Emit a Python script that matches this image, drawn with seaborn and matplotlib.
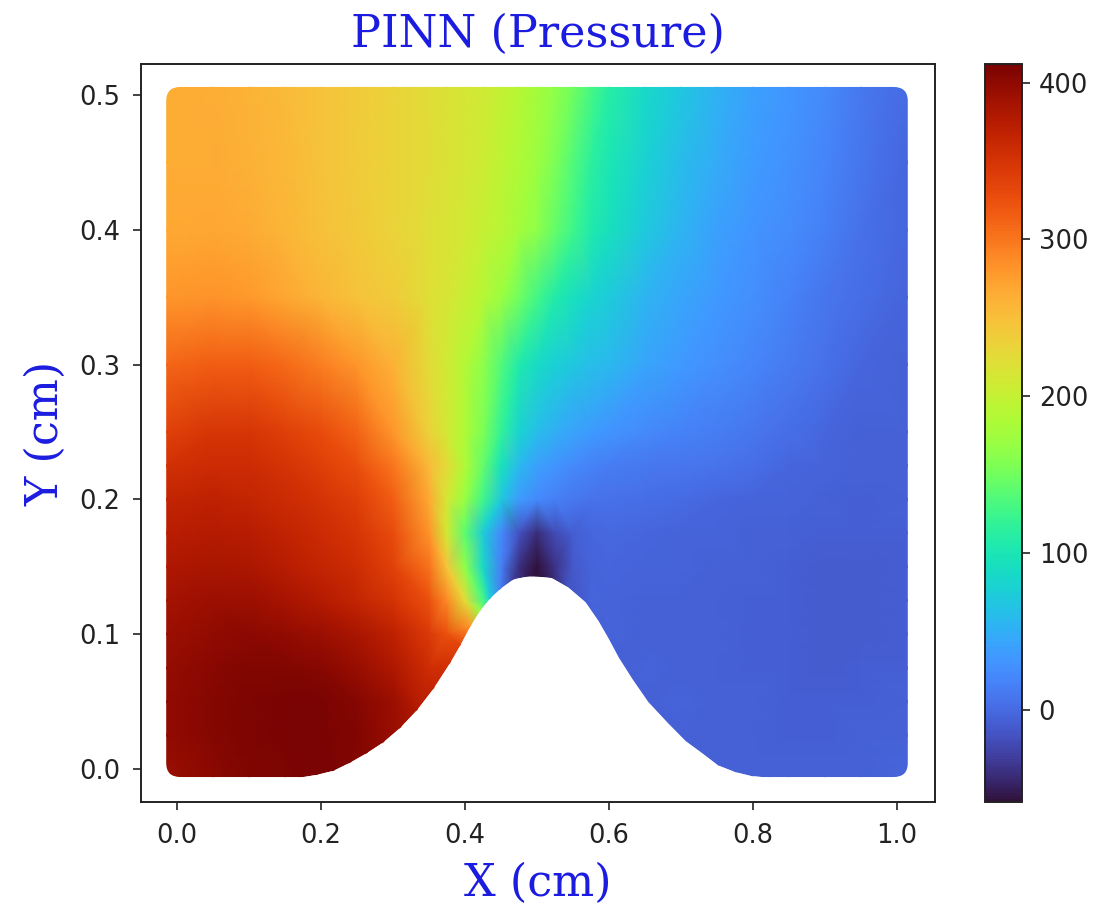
import numpy as np
import pandas as pd
import matplotlib
matplotlib.use("Agg")
import matplotlib.pyplot as plt
import matplotlib.tri as mtri
from matplotlib.patches import FancyBboxPatch
import seaborn as sns

N = np.nan

# Sample columns (cm)
x_cols = [-0.015, 0.05, 0.1, 0.15, 0.2, 0.25, 0.3, 0.35, 0.375, 0.4, 0.425, 0.45, 0.475,
          0.5, 0.525, 0.55, 0.575, 0.6, 0.65, 0.7, 0.75, 0.8, 0.85, 0.9, 0.95, 1.015]

# Pressure estimated from the colours, one list per height, NaN = inside the bump
p_y506 = [265, 264, 260, 255, 248, 240, 232, 224, 218, 213, 208, 200, 190, 178, 165, 150, 130, 112, 85, 68, 52, 40, 32, 22, 10, 0]
p_y450 = [266, 266, 262, 256, 248, 240, 232, 224, 218, 212, 206, 196, 184, 172, 155, 135, 115, 100, 78, 60, 46, 35, 28, 19, 8, -2]
p_y400 = [268, 270, 265, 258, 250, 242, 232, 222, 216, 210, 202, 192, 178, 165, 145, 125, 105, 92, 70, 54, 40, 31, 24, 15, 5, -3]
p_y350 = [280, 282, 278, 270, 258, 248, 240, 222, 214, 203, 190, 172, 150, 128, 108, 92, 80, 72, 55, 44, 34, 26, 18, 9, 2, -5]
p_y300 = [310, 316, 316, 308, 295, 280, 262, 225, 208, 188, 165, 135, 105, 88, 76, 68, 62, 57, 43, 34, 27, 20, 12, 5, -2, -7]
p_y250 = [338, 348, 348, 340, 328, 312, 280, 235, 210, 185, 155, 118, 80, 62, 50, 42, 36, 30, 23, 18, 14, 8, 2, -3, -6, -7]
p_y225 = [352, 358, 358, 350, 340, 326, 300, 255, 225, 185, 145, 95, 58, 40, 30, 22, 18, 14, 10, 8, 6, 2, -2, -5, -7, -7]
p_y200 = [365, 368, 366, 358, 350, 340, 315, 268, 212, 170, 125, 70, 35, 22, 15, 10, 6, 4, 2, 0, -2, -4, -5, -7, -8, -7]
p_y175 = [372, 376, 374, 367, 358, 348, 328, 282, 208, 140, 75, 22, -18, -42, -22, -8, -3, -1, -2, -4, -5, -6, -7, -9, -9, -8]
p_y150 = [380, 384, 382, 374, 365, 355, 338, 302, 245, 165, 85, 15, -40, -58, -38, -12, -5, -3, -4, -5, -6, -7, -9, -10, -10, -8]
p_y125 = [388, 392, 392, 385, 376, 365, 350, 325, 288, 225, 130, N, N, N, N, N, -2, -5, -6, -6, -7, -8, -9, -10, -10, -8]
p_y100 = [392, 398, 402, 398, 392, 384, 368, 345, 325, N, N, N, N, N, N, N, N, -5, -6, -6, -7, -8, -9, -10, -10, -8]
p_y075 = [396, 403, 408, 408, 404, 394, 380, 355, N, N, N, N, N, N, N, N, N, N, -5, -6, -7, -8, -9, -10, -9, -8]
p_y050 = [398, 405, 410, 411, 412, 405, 392, N, N, N, N, N, N, N, N, N, N, N, N, -5, -6, -7, -8, -9, -8, -7]
p_y025 = [398, 405, 410, 412, 412, 407, N, N, N, N, N, N, N, N, N, N, N, N, N, N, -6, -7, -8, -8, -7, -6]
p_y000 = [393, 402, 408, 410, N, N, N, N, N, N, N, N, N, N, N, N, N, N, N, N, N, N, -7, -7, -6, -5]

y_rows = [0.506, 0.45, 0.4, 0.35, 0.3, 0.25, 0.225, 0.2, 0.175, 0.15, 0.125, 0.1, 0.075, 0.05, 0.025, -0.006]
p_rows = [p_y506, p_y450, p_y400, p_y350, p_y300, p_y250, p_y225, p_y200, p_y175, p_y150,
          p_y125, p_y100, p_y075, p_y050, p_y025, p_y000]

# Bump outline and the pressure read just above it
bump_x = [0.171, 0.194, 0.217, 0.24, 0.263, 0.286, 0.31, 0.333, 0.356, 0.379, 0.393, 0.407, 0.421,
          0.435, 0.449, 0.467, 0.486, 0.5, 0.52, 0.543, 0.567, 0.585, 0.599, 0.613, 0.632, 0.654,
          0.682, 0.706, 0.729, 0.751, 0.775, 0.798, 0.821]
bump_y = [-0.006, -0.004, -0.001, 0.005, 0.012, 0.02, 0.031, 0.044, 0.06, 0.079, 0.092, 0.106, 0.118,
          0.127, 0.134, 0.141, 0.143, 0.143, 0.142, 0.135, 0.124, 0.11, 0.097, 0.083, 0.067, 0.05,
          0.034, 0.021, 0.012, 0.003, -0.002, -0.005, -0.006]
bump_p = [411, 411, 411, 408, 404, 398, 390, 378, 365, 350, 335, 280, 165,
          70, 15, -30, -50, -58, -45, -15, -8, -7, -6, -6, -6, -6,
          -6, -6, -6, -6, -7, -7, -7]

p_min = -59
p_max = 412
cbar_ticks = [0, 100, 200, 300, 400]

# Table of all points
rows = []
for yv, pr in zip(y_rows, p_rows):
    for xv, pv in zip(x_cols, pr):
        if not np.isnan(pv):
            rows.append((xv, yv, pv))
for xv, yv, pv in zip(bump_x, bump_y, bump_p):
    rows.append((xv, yv, pv))
df = pd.DataFrame(rows, columns=["x", "y", "p"])

fig = plt.figure(figsize=(11.02, 9.05), dpi=100)
ax = fig.add_axes([141 / 1102, 1 - 802 / 905, 794 / 1102, 738 / 905])
cax = fig.add_axes([985 / 1102, 1 - 802 / 905, 37 / 1102, 738 / 905])

norm = plt.Normalize(p_min, p_max)

# Gouraud shading between the read points, triangles inside the bump masked out
tri = mtri.Triangulation(df["x"], df["y"])
cx = df["x"].values[tri.triangles].mean(axis=1)
cy = df["y"].values[tri.triangles].mean(axis=1)
tri.set_mask(cy < np.interp(cx, bump_x, bump_y))
mesh = ax.tripcolor(tri, df["p"], shading="gouraud", cmap="turbo", norm=norm)

sns.scatterplot(data=df, x="x", y="y", hue="p", palette="turbo", hue_norm=norm,
                s=6, linewidth=0, legend=False, ax=ax)

# Rounded corners of the point cloud
box = FancyBboxPatch((-0.015, -0.006), 1.03, 0.512, boxstyle="round,pad=0,rounding_size=0.02",
                     mutation_aspect=0.52, facecolor="none", edgecolor="none",
                     transform=ax.transData)
ax.add_patch(box)
mesh.set_clip_path(box)
ax.collections[-1].set_clip_path(box)

ax.fill_between(bump_x, -0.02, bump_y, color="white", linewidth=0, zorder=3)

ax.set_xlim(-0.05, 1.0528)
ax.set_ylim(-0.0245, 0.523)
ax.set_xticks([0, 0.2, 0.4, 0.6, 0.8, 1.0])
ax.set_yticks([0, 0.1, 0.2, 0.3, 0.4, 0.5])
ax.tick_params(labelsize=18.5, length=6, width=1.2, pad=9, labelcolor="#222222", color="#222222")
for s in ax.spines.values():
    s.set_linewidth(1.4)
    s.set_edgecolor("#222222")
    s.set_zorder(5)

label_blue = "#1c1ce0"
ax.set_title("PINN (Pressure)", fontsize=32, family="serif", color=label_blue, pad=12)
ax.set_xlabel("X (cm)", fontsize=32, family="serif", color=label_blue, labelpad=9)
ax.set_ylabel("Y (cm)", fontsize=32, family="serif", color=label_blue, labelpad=8)

cb = fig.colorbar(plt.cm.ScalarMappable(norm=norm, cmap="turbo"), cax=cax)
cb.set_ticks(cbar_ticks)
cb.ax.tick_params(labelsize=18.5, length=6, width=1.2, pad=6, labelcolor="#222222", color="#222222")
cb.outline.set_linewidth(1.4)
cb.outline.set_edgecolor("#222222")

fig.savefig("out.png", dpi=100)
